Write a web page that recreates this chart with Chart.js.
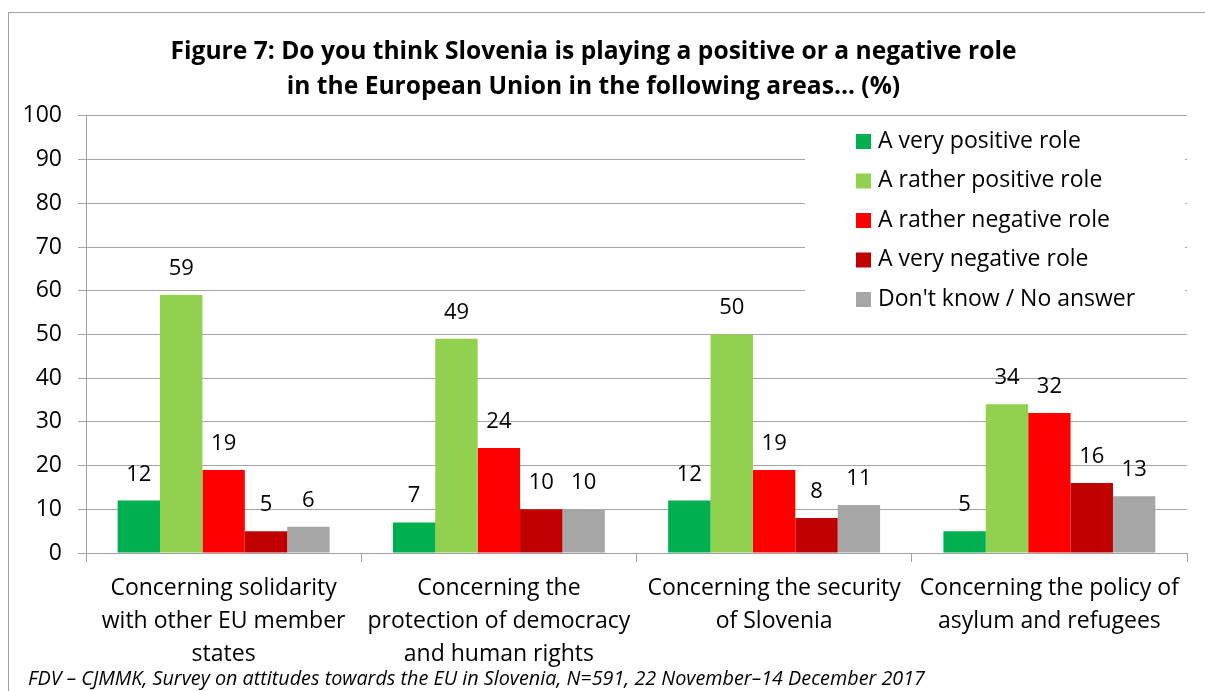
<!DOCTYPE html>
<html>
<head>
<meta charset="utf-8">
<script src="https://cdn.jsdelivr.net/npm/chart.js@4"></script>
<style>
  html, body { margin: 0; padding: 0; background: #fff; }
  #wrap { width: 1205px; height: 691px; }
</style>
</head>
<body>
<div id="wrap"><canvas id="roleChart"></canvas></div>
<script>
const categories = [
  ['Concerning solidarity', 'with other EU member', 'states'],
  ['Concerning the', 'protection of democracy', 'and human rights'],
  ['Concerning the security', 'of Slovenia'],
  ['Concerning the policy of', 'asylum and refugees']
];
const seriesNames = ['A very positive role', 'A rather positive role', 'A rather negative role', 'A very negative role', "Don't know / No answer"];
const veryPositive = [12, 7, 12, 5];
const ratherPositive = [59, 49, 50, 34];
const ratherNegative = [19, 24, 19, 32];
const veryNegative = [5, 10, 8, 16];
const dontKnow = [6, 10, 11, 13];
const yTicks = [0, 10, 20, 30, 40, 50, 60, 70, 80, 90, 100];

const colors = ['#00b050', '#92d050', '#ff0000', '#c00000', '#a6a6a6'];
const FONT = '"Open Sans", Lato, sans-serif';
const footnote = 'FDV \u2013 CJMMK, Survey on attitudes towards the EU in Slovenia, N=591, 22 November\u201314 December 2017';

// frame, value labels, legend box and source line
const decorations = {
  id: 'decorations',
  beforeDraw(chart) {
    const c = chart.ctx;
    c.save();
    c.fillStyle = '#fff';
    c.fillRect(0, 0, chart.width, chart.height);
    c.strokeStyle = '#a0a0a0';
    c.lineWidth = 1;
    c.strokeRect(8.5, 12.5, chart.width + 10, chart.height + 10);
    c.restore();
  },
  afterDatasetsDraw(chart) {
    const c = chart.ctx;
    c.save();
    c.font = '22px ' + FONT;
    c.fillStyle = '#000';
    c.textAlign = 'center';
    c.textBaseline = 'alphabetic';
    chart.data.datasets.forEach((ds, i) => {
      chart.getDatasetMeta(i).data.forEach((bar, j) => {
        c.fillText(String(ds.data[j]), bar.x, bar.y - 20);
      });
    });

    // legend sitting inside the plot area
    const lx = 805, ly = 124, lw = 380, lh = 196;
    c.fillStyle = '#fff';
    c.fillRect(lx, ly, lw, lh);
    c.font = '23px ' + FONT;
    c.textAlign = 'left';
    c.textBaseline = 'middle';
    chart.data.datasets.forEach((ds, i) => {
      const y = 141 + i * 39.5;
      c.fillStyle = ds.backgroundColor;
      c.fillRect(856, y - 7, 15, 15);
      c.fillStyle = '#000';
      c.fillText(ds.label, 878, y);
    });

    c.font = 'italic 19.8px ' + FONT;
    c.textBaseline = 'alphabetic';
    c.fillText(footnote, 28, 685);
    c.restore();
  }
};

const seriesData = [veryPositive, ratherPositive, ratherNegative, veryNegative, dontKnow];

new Chart(document.getElementById('roleChart'), {
  type: 'bar',
  data: {
    labels: categories,
    datasets: seriesNames.map((name, i) => ({
      label: name,
      data: seriesData[i],
      backgroundColor: colors[i],
      borderWidth: 0,
      barPercentage: 1,
      categoryPercentage: 0.77
    }))
  },
  options: {
    responsive: true,
    maintainAspectRatio: false,
    animation: false,
    layout: { padding: { left: 0, right: 18, top: 0, bottom: 0 } },
    plugins: {
      legend: { display: false },
      tooltip: { enabled: false },
      title: {
        display: true,
        text: ['Figure 7: Do you think Slovenia is playing a positive or a negative role', 'in the European Union in the following areas... (%)'],
        color: '#000',
        font: { family: FONT, size: 24.6, weight: 'bold', lineHeight: 1.42 },
        padding: { top: 35, bottom: 11 }
      }
    },
    scales: {
      x: {
        grid: { display: true, drawOnChartArea: false, offset: true, tickLength: 9, color: '#a0a0a0' },
        border: { color: '#a0a0a0' },
        ticks: { color: '#000', font: { family: FONT, size: 23, lineHeight: 1.43 }, padding: 10, maxRotation: 0, autoSkip: false },
        afterFit(scale) { scale.height = 138; }
      },
      y: {
        min: 0,
        max: 100,
        afterBuildTicks(scale) { scale.ticks = yTicks.map(v => ({ value: v })); },
        grid: { color: '#a6a6a6', tickLength: 8 },
        border: { color: '#a0a0a0' },
        ticks: { color: '#000', font: { family: FONT, size: 23 }, padding: 16 },
        afterFit(scale) { scale.width = 86; }
      }
    }
  },
  plugins: [decorations]
});
</script>
</body>
</html>
